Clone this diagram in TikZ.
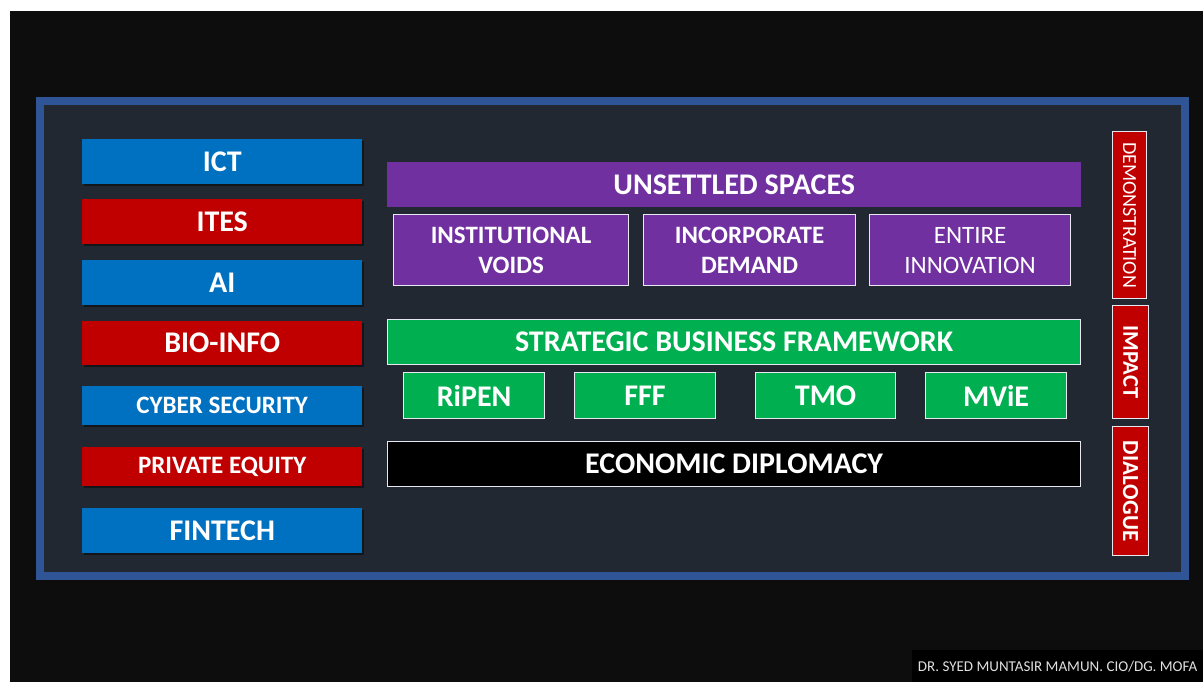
\documentclass[tikz,border=0pt]{standalone}
\usepackage{fontspec}
\setmainfont{Carlito}
\usetikzlibrary{shadows}
\definecolor{bgdark}{HTML}{0D0D0D}
\definecolor{panel}{HTML}{222831}
\definecolor{frameblue}{HTML}{2F5597}
\definecolor{boxblue}{HTML}{0070C0}
\definecolor{boxred}{HTML}{C00000}
\definecolor{boxpurple}{HTML}{7030A0}
\definecolor{boxgreen}{HTML}{00B050}
\definecolor{edgewhite}{HTML}{E8E8F0}
\tikzset{
  sector/.style={anchor=north west, inner sep=0pt, text=white,
    font=\bfseries\fontsize{30}{32}\selectfont,
    drop shadow={shadow xshift=2pt, shadow yshift=-2pt, opacity=0.45, fill=black}},
  bar/.style={anchor=north west, inner sep=0pt, text=white,
    font=\bfseries\fontsize{30}{32}\selectfont},
  cell/.style={anchor=north west, inner sep=0pt, text=white, draw=edgewhite,
    line width=1.2pt, align=center},
  side/.style={anchor=north west, inner sep=0pt, text=white, fill=boxred,
    draw=edgewhite, line width=1.2pt},
}
\begin{document}
\begin{tikzpicture}[x=1pt, y=-1pt]
  \useasboundingbox (0,0) rectangle (1203,682);
  \fill[white] (0,0) rectangle (1203,682);
  \fill[bgdark] (10,11) rectangle (1203,682);
  % framed panel
  \fill[frameblue] (36,97) rectangle (1189,580);
  \fill[panel] (44,105) rectangle (1181,572);

  % sector column
  \node[sector, fill=boxblue, minimum width=280pt, minimum height=45pt] (ict) at (82,139) {ICT};
  \node[sector, fill=boxred, minimum width=280pt, minimum height=45pt] (ites) at (82,199) {ITES};
  \node[sector, fill=boxblue, minimum width=280pt, minimum height=45pt] (ai) at (82,260) {AI};
  \node[sector, fill=boxred, minimum width=280pt, minimum height=44pt] (bio) at (82,321) {BIO-INFO};
  \node[sector, fill=boxblue, minimum width=280pt, minimum height=39pt,
        font=\bfseries\fontsize{25}{28}\selectfont] (cyber) at (82,386) {CYBER SECURITY};
  \node[sector, fill=boxred, minimum width=280pt, minimum height=39pt,
        font=\bfseries\fontsize{25}{28}\selectfont] (pe) at (82,447) {PRIVATE EQUITY};
  \node[sector, fill=boxblue, minimum width=280pt, minimum height=45pt] (fintech) at (82,508) {FINTECH};

  % unsettled spaces
  \node[bar, fill=boxpurple, minimum width=694pt, minimum height=45pt] (unsettled) at (387,162) {UNSETTLED SPACES};
  \node[cell, fill=boxpurple, minimum width=235pt, minimum height=71pt,
        font=\bfseries\fontsize{25}{30}\selectfont] (voids) at (393,214) {INSTITUTIONAL\\VOIDS};
  \node[cell, fill=boxpurple, minimum width=212pt, minimum height=71pt,
        font=\bfseries\fontsize{25}{30}\selectfont] (demand) at (643,214) {INCORPORATE\\DEMAND};
  \node[cell, fill=boxpurple, minimum width=201pt, minimum height=71pt,
        font=\fontsize{25}{30}\selectfont] (innov) at (869,214) {ENTIRE\\INNOVATION};

  % strategic business framework
  \node[bar, fill=boxgreen, draw=edgewhite, line width=1.2pt, minimum width=693pt, minimum height=45pt] (sbf) at (387,319) {STRATEGIC BUSINESS FRAMEWORK};
  \node[cell, fill=boxgreen, minimum width=141pt, minimum height=46pt,
        font=\bfseries\fontsize{30}{32}\selectfont] (ripen) at (403,372) {RiPEN};
  \node[cell, fill=boxgreen, minimum width=141pt, minimum height=46pt,
        font=\bfseries\fontsize{30}{32}\selectfont] (fff) at (574,372) {FFF};
  \node[cell, fill=boxgreen, minimum width=140pt, minimum height=46pt,
        font=\bfseries\fontsize{30}{32}\selectfont] (tmo) at (755,372) {TMO};
  \node[cell, fill=boxgreen, minimum width=141pt, minimum height=46pt,
        font=\bfseries\fontsize{30}{32}\selectfont] (mvie) at (925,372) {MViE};

  % economic diplomacy
  \node[bar, fill=black, draw=edgewhite, line width=1.2pt, minimum width=693pt, minimum height=45pt] (econ) at (387,441) {ECONOMIC DIPLOMACY};

  % vertical labels on the right
  \node[side, minimum width=34pt, minimum height=167pt] (demo) at (1112,131) {};
  \node[rotate=-90, text=white, font=\fontsize{20}{22}\selectfont] at (demo.center) {DEMONSTRATION};
  \node[side, minimum width=36pt, minimum height=113pt] (impact) at (1112,305) {};
  \node[rotate=-90, text=white, font=\bfseries\fontsize{22.5}{24}\selectfont] at (impact.center) {IMPACT};
  \node[side, minimum width=36pt, minimum height=129pt] (dialogue) at (1112,426) {};
  \node[rotate=-90, text=white, font=\bfseries\fontsize{23}{25}\selectfont] at (dialogue.center) {DIALOGUE};

  % credit line
  \node[anchor=north west, fill=black, inner sep=0pt, minimum width=291pt, minimum height=32pt,
        text=white!88!black, font=\fontsize{15}{17}\selectfont] (credit) at (912,650) {DR. SYED MUNTASIR MAMUN. CIO/DG. MOFA};
\end{tikzpicture}
\end{document}
